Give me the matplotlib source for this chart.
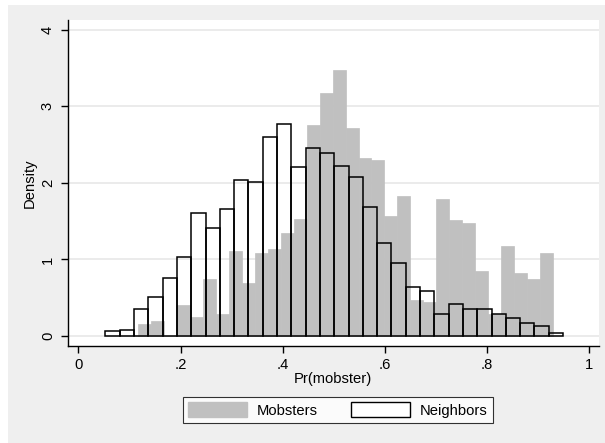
import numpy as np
import matplotlib
matplotlib.use('Agg')
import matplotlib.pyplot as plt
from matplotlib.patches import Patch, Rectangle

plt.rcParams['font.family'] = ['Liberation Sans', 'DejaVu Sans']

# histogram bins (start, width) and densities
mob_start, mob_width = 0.1175, 0.02537
mob_density = [0.157, 0.196, 0.0, 0.405, 0.244, 0.744, 0.287, 1.11, 0.686, 1.09,
               1.13, 1.35, 1.53, 2.75, 3.18, 3.47, 2.71, 2.33, 2.30, 1.57,
               1.83, 0.465, 0.445, 1.79, 1.51, 1.47, 0.845, 0.29, 1.17, 0.827,
               0.744, 1.09]
nb_start, nb_width = 0.0529, 0.02802
nb_density = [0.065, 0.083, 0.357, 0.505, 0.757, 1.027, 1.61, 1.41, 1.66, 2.04,
              2.01, 2.60, 2.77, 2.21, 2.46, 2.39, 2.22, 2.08, 1.68, 1.21,
              0.957, 0.644, 0.592, 0.287, 0.413, 0.357, 0.357, 0.287, 0.230, 0.174,
              0.126, 0.035]

xticks = [0, 0.2, 0.4, 0.6, 0.8, 1.0]
xtick_labels = ['0', '.2', '.4', '.6', '.8', '1']
yticks = [0, 1, 2, 3, 4]
legend_labels = ['Mobsters', 'Neighbors']

bg = '#efefef'
bar_gray = '#c0c0c0'
fs = 10.6

fig = plt.figure(figsize=(6.05, 4.43), dpi=100, facecolor='white')
fig.patches.append(Rectangle((8/605, 0), 1, 1 - 5/443, transform=fig.transFigure,
                             facecolor=bg, edgecolor='none', zorder=-10))
ax = fig.add_axes([67.5/605, 1 - 346/443, (599 - 67.5)/605, (346 - 20)/443])
ax.set_facecolor('white')

mob_edges = mob_start + mob_width * np.arange(len(mob_density))
nb_edges = nb_start + nb_width * np.arange(len(nb_density))

ax.bar(mob_edges, mob_density, width=mob_width, align='edge', color=bar_gray,
       edgecolor=bar_gray, linewidth=0.5, zorder=2)
ax.bar(nb_edges, nb_density, width=nb_width, align='edge', fill=False,
       edgecolor='black', linewidth=1.1, zorder=3)

for y in yticks:
    ax.axhline(y, color='#e8e8e8', linewidth=1.2, zorder=1)

ax.set_xlim(-0.0215, 1.020)
ax.set_ylim(-0.1306, 4.127)
ax.set_xticks(xticks)
ax.set_xticklabels(xtick_labels)
ax.set_yticks(yticks)
ax.tick_params(axis='y', labelrotation=90, length=5, width=1, pad=4, labelsize=fs)
ax.tick_params(axis='x', length=5, width=1, pad=3.5, labelsize=fs)
for lab in ax.get_yticklabels():
    lab.set_va('center')

for s in ['top', 'right']:
    ax.spines[s].set_visible(False)
for s in ['left', 'bottom']:
    ax.spines[s].set_linewidth(1)

ax.set_xlabel('Pr(mobster)', fontsize=fs, labelpad=0)
ax.set_ylabel('Density', fontsize=fs, labelpad=3)

handles = [Patch(facecolor=bar_gray, edgecolor=bar_gray),
           Patch(facecolor='white', edgecolor='black', linewidth=1)]
leg = fig.legend(handles, legend_labels, ncol=2, loc='center',
                 bbox_to_anchor=(337.9/605, 1 - 410/443), fontsize=fs,
                 frameon=True, fancybox=False, edgecolor='black',
                 handlelength=4.0, handleheight=1.1, columnspacing=2.3,
                 handletextpad=0.65, borderpad=0.35)
leg.get_frame().set_linewidth(0.8)

fig.savefig('out.png', dpi=100, facecolor=fig.get_facecolor())
